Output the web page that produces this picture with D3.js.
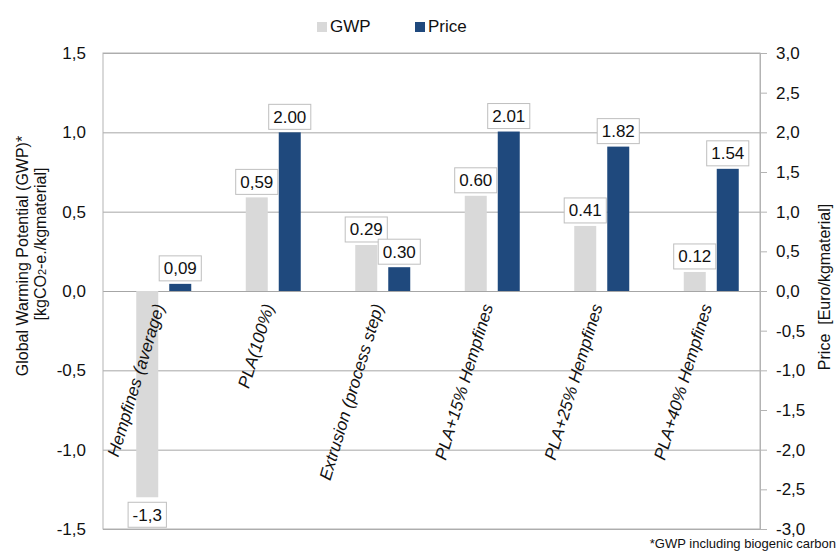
<!DOCTYPE html>
<html>
<head>
<meta charset="utf-8">
<script src="https://cdn.jsdelivr.net/npm/d3@7"></script>
<style>
  body { margin: 0; background: #fff; }
  svg { font-family: "Liberation Sans", Arial, sans-serif; }
</style>
</head>
<body>
<svg></svg>
<script>
// chart data
var categories = ["Hempfines (average)", "PLA(100%)", "Extrusion (process step)",
                  "PLA+15% Hempfines", "PLA+25% Hempfines", "PLA+40% Hempfines"];
var seriesNames = ["GWP", "Price"];
var gwpValues = [-1.3, 0.59, 0.29, 0.60, 0.41, 0.12];
var priceValues = [0.09, 2.00, 0.30, 2.01, 1.82, 1.54];
var gwpLabels = ["-1,3", "0,59", "0.29", "0.60", "0.41", "0.12"];
var priceLabels = ["0,09", "2.00", "0.30", "2.01", "1.82", "1.54"];
var leftTicks = [-1.5, -1.0, -0.5, 0, 0.5, 1.0, 1.5];
var rightTicks = [-3.0, -2.5, -2.0, -1.5, -1.0, -0.5, 0, 0.5, 1.0, 1.5, 2.0, 2.5, 3.0];

var screen = {width: 839, height: 551};
var margins = {top: 53, right: 79, bottom: 22, left: 103};
var width = screen.width - margins.left - margins.right;
var height = screen.height - margins.top - margins.bottom;

var colors = {GWP: "#d9d9d9", Price: "#1f497d"};

var comma = d3.formatLocale({decimal: ",", thousands: ".", grouping: [3], currency: ["", ""], minus: "-"}).format(".1f");

var svg = d3.select("svg")
    .attr("width", screen.width)
    .attr("height", screen.height);

var g = svg.append("g")
    .attr("transform", "translate(" + margins.left + "," + margins.top + ")");

var yLeft = d3.scaleLinear().domain([-1.5, 1.5]).range([height, 0]);
var yRight = d3.scaleLinear().domain([-3, 3]).range([height, 0]);

// bars sit a little right of the frame in the original
var xScale = d3.scaleBand().domain(categories).range([6, width + 6]);
var half = 27.5;
var xInner = d3.scaleBand().domain(seriesNames)
    .range([xScale.bandwidth() / 2 - half, xScale.bandwidth() / 2 + half])
    .paddingInner(1 / 3);

// left axis + gridlines
var leftAxis = d3.axisLeft(yLeft).tickValues(leftTicks).tickSize(-width).tickPadding(17).tickFormat(comma);
var gl = g.append("g").attr("class", "axis").call(leftAxis);
gl.select(".domain").remove();
gl.selectAll(".tick line").attr("stroke", "#a6a6a6");
gl.selectAll(".tick text").attr("font-size", 17).attr("fill", "#111").attr("font-family", null);

// frame
g.append("rect")
    .attr("x", 0).attr("y", 0)
    .attr("width", width).attr("height", height)
    .attr("fill", "none").attr("stroke", "#b3b3b3");

// right axis
var rightAxis = d3.axisRight(yRight).tickValues(rightTicks).tickSize(7).tickPadding(9).tickFormat(comma);
var gr = g.append("g").attr("class", "axis")
    .attr("transform", "translate(" + width + ",0)")
    .call(rightAxis);
gr.attr("font-family", null);
gl.attr("font-family", null);
gr.select(".domain").attr("stroke", "#b3b3b3");
gr.selectAll(".tick line").attr("stroke", "#b3b3b3");
gr.selectAll(".tick text").attr("font-size", 17).attr("fill", "#111");

var rows = categories.map(function(c, i) {
    return {cat: c, GWP: gwpValues[i], Price: priceValues[i], gl: gwpLabels[i], pl: priceLabels[i]};
});

var groups = g.selectAll(".grp").data(rows).enter().append("g")
    .attr("class", "grp")
    .attr("transform", function(d) { return "translate(" + xScale(d.cat) + ",0)"; });

groups.append("rect")
    .attr("x", xInner("GWP"))
    .attr("width", xInner.bandwidth())
    .attr("y", function(d) { return yLeft(Math.max(0, d.GWP)); })
    .attr("height", function(d) { return Math.abs(yLeft(d.GWP) - yLeft(0)); })
    .attr("fill", colors.GWP);

groups.append("rect")
    .attr("x", xInner("Price"))
    .attr("width", xInner.bandwidth())
    .attr("y", function(d) { return yRight(Math.max(0, d.Price)); })
    .attr("height", function(d) { return Math.abs(yRight(d.Price) - yRight(0)); })
    .attr("fill", colors.Price);

// category labels, rotated
groups.append("text")
    .attr("transform", "translate(" + (xScale.bandwidth() / 2 + 1) + "," + (yLeft(0) + 15) + ") rotate(-73)")
    .attr("text-anchor", "end")
    .attr("font-size", 17)
    .attr("font-style", "italic")
    .attr("fill", "#111")
    .text(function(d) { return d.cat; });

// boxed value labels
var addLabel = function(sel, cx, cy) {
    var t = sel.append("text")
        .attr("x", cx).attr("y", cy)
        .attr("text-anchor", "middle")
        .attr("dy", "0.35em")
        .attr("font-size", 17)
        .attr("fill", "#111");
    return t;
};

var boxH = 25;
var drawBoxes = function(key, labelKey, scale) {
    groups.each(function(d) {
        var grp = d3.select(this);
        var v = d[key];
        var cx = xInner(key) + xInner.bandwidth() / 2;
        var cy = v >= 0 ? scale(v) - 3 - boxH / 2 : scale(v) + 5 + boxH / 2;
        var box = grp.append("rect").attr("fill", "#fff").attr("stroke", "#bfbfbf");
        var t = addLabel(grp, cx, cy).text(d[labelKey]);
        var w = t.node().getComputedTextLength() + 9;
        box.attr("x", cx - w / 2).attr("y", cy - boxH / 2).attr("width", w).attr("height", boxH);
    });
};
drawBoxes("GWP", "gl", yLeft);
drawBoxes("Price", "pl", yRight);

// legend
var legend = svg.append("g").attr("transform", "translate(317,22)");
var legendX = [0, 98];
seriesNames.forEach(function(s, i) {
    legend.append("rect").attr("x", legendX[i]).attr("y", 0).attr("width", 10).attr("height", 10).attr("fill", colors[s]);
    legend.append("text").attr("x", legendX[i] + 13).attr("y", 10).attr("font-size", 17).attr("fill", "#111").text(s);
});

// axis titles
svg.append("text")
    .attr("transform", "translate(28,256) rotate(-90)")
    .attr("text-anchor", "middle").attr("font-size", 16).attr("fill", "#111")
    .text("Global Warming Potential (GWP)*");
var lt2 = svg.append("text")
    .attr("transform", "translate(46,244) rotate(-90)")
    .attr("text-anchor", "middle").attr("font-size", 16).attr("fill", "#111");
lt2.append("tspan").text("[kgCO");
lt2.append("tspan").attr("font-size", 11).text("2");
lt2.append("tspan").text("-e./kgmaterial]");

svg.append("text")
    .attr("transform", "translate(830,287) rotate(-90)")
    .attr("text-anchor", "middle").attr("font-size", 16).attr("fill", "#111")
    .style("white-space", "pre")
    .text("Price  [Euro/kgmaterial]");

svg.append("text")
    .attr("x", 836).attr("y", 548)
    .attr("text-anchor", "end").attr("font-size", 13).attr("fill", "#111")
    .text("*GWP including biogenic carbon");
</script>
</body>
</html>
